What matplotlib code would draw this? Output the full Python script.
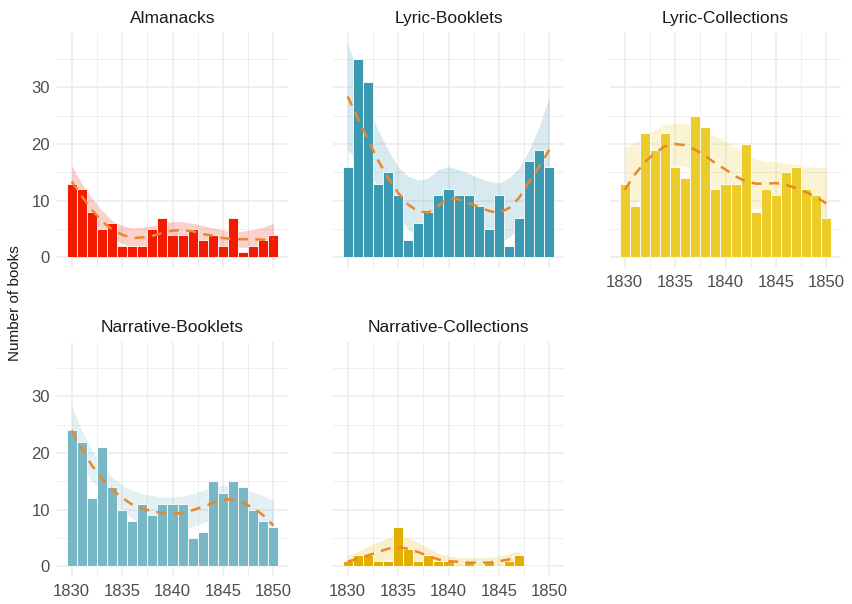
import numpy as np
import matplotlib.pyplot as plt

plt.rcParams['font.family'] = ['Liberation Sans', 'DejaVu Sans']

years = np.arange(1830, 1851)

# book counts per year, one series per genre/format
almanacks = [13, 12, 8, 5, 6, 2, 2, 2, 5, 7, 4, 4, 5, 3, 4, 2, 7, 1, 2, 3, 4]
lyric_booklets = [16, 35, 31, 13, 15, 11, 3, 6, 8, 11, 12, 11, 11, 9, 5, 11, 2, 7, 17, 19, 16]
lyric_collections = [13, 9, 22, 19, 22, 16, 14, 25, 23, 12, 13, 13, 20, 8, 12, 11, 15, 16, 12, 11, 7]
narrative_booklets = [24, 22, 12, 21, 14, 10, 8, 11, 9, 11, 11, 11, 5, 6, 15, 13, 15, 14, 10, 8, 7]
narrative_collections = [1, 2, 2, 1, 1, 7, 3, 1, 2, 1, 1, 0, 1, 0, 1, 0, 1, 2, 0, 0, 0]

# smoothed trend with its confidence band (fit, lower, upper)
alm_fit = [13.4, 10.8, 8.4, 6.4, 4.9, 4.0, 3.4, 3.5, 3.8, 4.3, 4.7, 4.8, 4.6, 4.1, 3.8, 3.4, 3.2, 3.2, 3.2, 3.1, 3.2]
alm_lo = [11.0, 8.8, 6.5, 4.7, 3.3, 2.5, 1.8, 1.8, 2.0, 2.6, 3.0, 3.2, 3.1, 2.7, 2.3, 2.0, 1.8, 1.8, 1.6, 1.2, 0.6]
alm_hi = [16.2, 13.0, 10.5, 8.3, 6.5, 5.6, 5.2, 5.3, 5.6, 6.0, 6.3, 6.3, 6.0, 5.6, 5.2, 4.8, 4.5, 4.6, 4.9, 5.3, 6.0]

lb_fit = [28.4, 24.6, 20.8, 17.2, 14.0, 11.4, 9.3, 8.1, 7.9, 9.1, 10.5, 10.2, 9.6, 8.9, 8.2, 7.8, 8.7, 10.5, 13.4, 16.0, 19.0]
lb_lo = [19.0, 17.0, 15.0, 12.5, 9.5, 7.0, 5.0, 3.5, 3.0, 4.5, 5.5, 5.2, 4.5, 3.8, 3.0, 2.5, 3.5, 5.2, 7.8, 9.0, 9.7]
lb_hi = [37.8, 32.5, 26.6, 22.5, 19.0, 16.0, 14.3, 13.6, 14.0, 15.5, 16.0, 15.5, 14.8, 14.0, 13.4, 13.1, 14.0, 15.8, 19.0, 23.1, 28.4]

lc_fit = [11.9, 14.6, 16.8, 18.4, 19.6, 20.0, 19.8, 19.0, 17.9, 16.6, 15.5, 14.3, 13.4, 13.0, 13.0, 13.1, 12.8, 12.2, 11.5, 10.6, 9.5]
lc_lo = [4.5, 9.0, 12.2, 14.3, 15.8, 16.3, 16.0, 15.0, 13.6, 11.8, 10.5, 9.3, 8.7, 8.6, 9.1, 9.3, 9.0, 8.0, 7.0, 5.3, 3.2]
lc_hi = [19.3, 20.2, 21.4, 22.5, 23.4, 23.7, 23.6, 23.0, 22.2, 21.4, 20.5, 19.3, 18.1, 17.4, 16.9, 16.9, 16.6, 16.4, 16.0, 15.9, 15.8]

nb_fit = [24.0, 20.8, 17.8, 15.5, 13.6, 12.1, 10.9, 10.2, 9.7, 9.4, 9.3, 9.4, 9.9, 10.5, 11.2, 11.8, 11.8, 11.2, 10.3, 9.0, 7.2]
nb_lo = [19.6, 17.6, 15.1, 13.2, 11.4, 9.9, 8.4, 7.6, 6.9, 6.6, 6.4, 6.4, 7.0, 7.6, 8.4, 9.3, 9.4, 8.7, 7.5, 5.5, 2.8]
nb_hi = [28.4, 24.0, 20.5, 17.8, 15.8, 14.3, 13.4, 12.8, 12.5, 12.2, 12.2, 12.4, 12.8, 13.4, 14.0, 14.3, 14.2, 13.7, 13.1, 12.5, 11.6]

# narrative collections only run to 1847
nc_years = np.arange(1830, 1848)
nc_fit = [0.8, 1.35, 1.9, 2.5, 3.1, 3.4, 3.1, 2.5, 1.8, 1.2, 0.9, 0.8, 0.65, 0.65, 0.65, 0.9, 1.2, 1.6]
nc_lo = [-0.2, 0.1, 0.3, 0.7, 1.2, 1.5, 1.2, 0.8, 0.4, 0.1, 0.0, 0.0, -0.1, -0.1, -0.1, 0.0, 0.2, 0.4]
nc_hi = [1.8, 2.6, 3.5, 4.3, 5.0, 5.3, 5.0, 4.2, 3.2, 2.3, 1.8, 1.6, 1.5, 1.5, 1.6, 1.8, 2.2, 2.8]

panels = [
    ('Almanacks', almanacks, years, alm_fit, alm_lo, alm_hi, '#F21A00'),
    ('Lyric-Booklets', lyric_booklets, years, lb_fit, lb_lo, lb_hi, '#3B9AB2'),
    ('Lyric-Collections', lyric_collections, years, lc_fit, lc_lo, lc_hi, '#EBCC2A'),
    ('Narrative-Booklets', narrative_booklets, years, nb_fit, nb_lo, nb_hi, '#78B7C5'),
    ('Narrative-Collections', narrative_collections, nc_years, nc_fit, nc_lo, nc_hi, '#E1AF00'),
]

W, H = 852, 604
fig = plt.figure(figsize=(W / 100, H / 100), dpi=100)

col_left = [57, 333, 610]
row_top = [33, 342]
pw, ph = 231, 235

for i, (title, counts, fy, fit, lo, hi, color) in enumerate(panels):
    r, c = divmod(i, 3)
    ax = fig.add_axes([col_left[c] / W, 1 - (row_top[r] + ph) / H, pw / W, ph / H])
    ax.set_xlim(1828.55, 1851.45)
    ax.set_ylim(-1.89, 39.6)

    ax.set_xticks([1830, 1835, 1840, 1845, 1850])
    ax.set_xticks(np.arange(1832.5, 1850, 5), minor=True)
    ax.set_yticks([0, 10, 20, 30])
    ax.set_yticks([5, 15, 25, 35], minor=True)
    ax.grid(True, which='major', color='#EBEBEB', linewidth=1.1)
    ax.grid(True, which='minor', color='#EBEBEB', linewidth=0.6)
    ax.set_axisbelow(True)
    for s in ax.spines.values():
        s.set_visible(False)
    ax.tick_params(which='both', length=0, labelsize=12, labelcolor='#4D4D4D', pad=5)

    # band sits behind the bars, trend line on top
    ax.fill_between(fy, lo, hi, color=color, alpha=0.2, linewidth=0, zorder=1)
    ax.bar(years, counts, width=1.0, color=color, edgecolor='white', linewidth=0.6, zorder=2)
    ax.plot(fy, fit, color='#E8872B', linewidth=1.8, linestyle=(0, (4, 3)), zorder=3)

    ax.set_title(title, fontsize=12.5, color='#1A1A1A', pad=7)

    if c != 0:
        ax.tick_params(labelleft=False)
    if r == 0 and c != 2:
        ax.tick_params(labelbottom=False)

fig.text(15 / W, 1 - 303 / H, 'Number of books', rotation=90, ha='center', va='center',
         fontsize=11, color='#1A1A1A')

fig.savefig('out.png', dpi=100, facecolor='white')
